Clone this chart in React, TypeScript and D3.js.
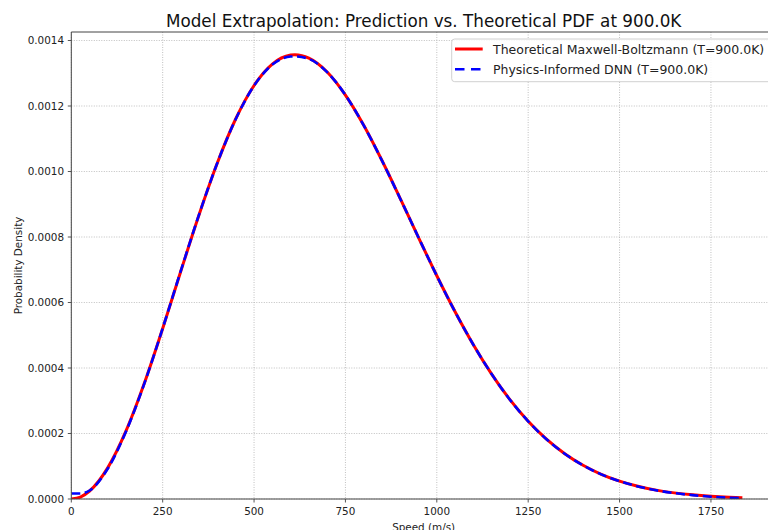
import React from "react";
import * as d3 from "d3";

const speeds = [0, 25, 50, 100, 150, 200, 250, 300, 350, 400, 450, 500, 550, 600, 612, 650, 700, 750, 800, 850, 900, 950, 1000, 1050, 1100, 1150, 1200, 1250, 1300, 1350, 1400, 1450, 1500, 1550, 1600, 1650, 1700, 1750, 1800, 1836];

const theoretical = [0, 6.1e-6, 2.445e-5, 9.586e-5, 2.0861e-4, 3.5393e-4, 5.2077e-4, 6.9679e-4, 8.6963e-4, 1.0276e-3, 1.16108e-3, 1.26274e-3, 1.32804e-3, 1.35548e-3, 1.35658e-3, 1.34633e-3, 1.30401e-3, 1.23344e-3, 1.14126e-3, 1.03357e-3, 9.1727e-4, 7.9837e-4, 6.818e-4, 5.7193e-4, 4.7116e-4, 3.8138e-4, 3.0326e-4, 2.3737e-4, 1.8273e-4, 1.3831e-4, 1.0301e-4, 7.551e-5, 5.452e-5, 3.872e-5, 2.709e-5, 1.868e-5, 1.269e-5, 8.47e-6, 5.58e-6, 4.1e-6];

const dnn = [1.7e-5, 1.7e-5, 2.6e-5, 9.3e-5, 2.07e-4, 3.53e-4, 5.21e-4, 6.98e-4, 8.7e-4, 1.0275e-3, 1.1605e-3, 1.262e-3, 1.3265e-3, 1.351e-3, 1.3515e-3, 1.344e-3, 1.3035e-3, 1.2335e-3, 1.141e-3, 1.033e-3, 9.17e-4, 7.985e-4, 6.815e-4, 5.715e-4, 4.71e-4, 3.815e-4, 3.033e-4, 2.372e-4, 1.825e-4, 1.383e-4, 1.03e-4, 7.53e-5, 5.43e-5, 3.85e-5, 2.67e-5, 1.8e-5, 1.18e-5, 7.0e-6, 3.8e-6, 2.5e-6];

const xTicks = [0, 250, 500, 750, 1000, 1250, 1500, 1750];
const yTicks = [0, 0.0002, 0.0004, 0.0006, 0.0008, 0.001, 0.0012, 0.0014];

const titleText = "Model Extrapolation: Prediction vs. Theoretical PDF at 900.0K";
const xLabel = "Speed (m/s)";
const yLabel = "Probability Density";
const legendLabels = ["Theoretical Maxwell-Boltzmann (T=900.0K)", "Physics-Informed DNN (T=900.0K)"];

const W = 768;
const H = 530;
const L = 71.3, R = 776, T = 32, B = 499;
const FONT = "DejaVu Sans, sans-serif";
const TICK_FS = 10.4;

export default function App() {
  const x = d3.scaleLinear().domain([0, 1928]).range([L, R]);
  const y = d3.scaleLinear().domain([0, 0.001426]).range([B, T]);
  const line = d3
    .line<number>()
    .x((_, i) => x(speeds[i]))
    .y((d) => y(d))
    .curve(d3.curveMonotoneX);

  return (
    <svg width={W} height={H} style={{ position: "absolute", left: 0, top: 0, background: "#fff" }} fontFamily={FONT}>
      <rect x={0} y={0} width={W} height={H} fill="#fff" />
      <defs>
        <clipPath id="plotclip">
          <rect x={L} y={T} width={R - L} height={B - T} />
        </clipPath>
      </defs>
      {/* grid */}
      {xTicks.map((t) => (
        <line key={"gx" + t} x1={x(t)} x2={x(t)} y1={T} y2={B} stroke="#b0b0b0" strokeWidth={0.8} strokeDasharray="1,1.5" />
      ))}
      {yTicks.map((t) => (
        <line key={"gy" + t} x1={L} x2={R} y1={y(t)} y2={y(t)} stroke="#b0b0b0" strokeWidth={0.8} strokeDasharray="1,1.5" />
      ))}
      {/* curves */}
      <g clipPath="url(#plotclip)">
        <path d={line(theoretical) || ""} fill="none" stroke="#ff0000" strokeWidth={3} strokeLinejoin="round" />
        <path d={line(dnn) || ""} fill="none" stroke="#0000ff" strokeWidth={2.6} strokeDasharray="9,4.5" strokeLinejoin="round" />
      </g>
      {/* spines */}
      <line x1={L} x2={L} y1={T} y2={B} stroke="#444" strokeWidth={1} />
      <line x1={L} x2={R} y1={B} y2={B} stroke="#444" strokeWidth={1} />
      <line x1={L} x2={R} y1={T} y2={T} stroke="#444" strokeWidth={1} />
      {/* x ticks */}
      {xTicks.map((t) => (
        <g key={"xt" + t}>
          <line x1={x(t)} x2={x(t)} y1={B} y2={B + 3.5} stroke="#444" strokeWidth={0.9} />
          <text x={x(t)} y={B + 16.3} textAnchor="middle" fontSize={TICK_FS} fill="#222">
            {t}
          </text>
        </g>
      ))}
      {/* y ticks */}
      {yTicks.map((t) => (
        <g key={"yt" + t}>
          <line x1={L - 3.5} x2={L} y1={y(t)} y2={y(t)} stroke="#444" strokeWidth={0.9} />
          <text x={L - 7.3} y={y(t) + 3.8} textAnchor="end" fontSize={TICK_FS} fill="#222">
            {t.toFixed(4)}
          </text>
        </g>
      ))}
      {/* labels */}
      <text x={(L + R) / 2} y={530.5} textAnchor="middle" fontSize={TICK_FS} fill="#222">
        {xLabel}
      </text>
      <text transform={`translate(21.5, ${(T + B) / 2}) rotate(-90)`} textAnchor="middle" fontSize={TICK_FS} fill="#222">
        {yLabel}
      </text>
      <text x={(L + R) / 2} y={26.5} textAnchor="middle" fontSize={16.8} fill="#111">
        {titleText}
      </text>
      {/* legend */}
      <rect x={451.7} y={39} width={330} height={42.7} rx={3} fill="#fff" fillOpacity={0.85} stroke="#d0d0d0" strokeWidth={1} />
      <line x1={455} x2={482.7} y1={49} y2={49} stroke="#ff0000" strokeWidth={3} />
      <line x1={455} x2={482.7} y1={69.3} y2={69.3} stroke="#0000ff" strokeWidth={2.6} strokeDasharray="9.5,6.5" />
      <text x={493} y={53.5} fontSize={12.5} fill="#222">
        {legendLabels[0]}
      </text>
      <text x={493} y={73.8} fontSize={12.5} fill="#222">
        {legendLabels[1]}
      </text>
    </svg>
  );
}
